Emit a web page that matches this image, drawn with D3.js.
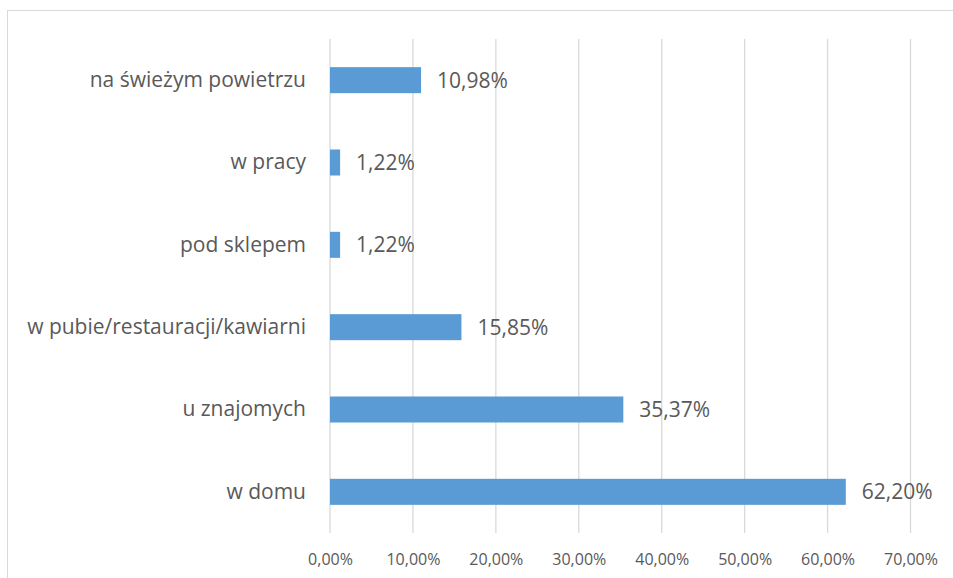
<!DOCTYPE html>
<html>
<head>
<meta charset="utf-8">
<script src="https://cdn.jsdelivr.net/npm/d3@7"></script>
<style>
  body { margin: 0; background: #fff; }
  svg text { font-family: "Open Sans", sans-serif; fill: #595959; }
</style>
</head>
<body>
<svg id="chart" width="953" height="578"></svg>
<script>
const categories = [
  "na świeżym powietrzu",
  "w pracy",
  "pod sklepem",
  "w pubie/restauracji/kawiarni",
  "u znajomych",
  "w domu",
];
const values = [10.98, 1.22, 1.22, 15.85, 35.37, 62.2];
const tickValues = [0, 10, 20, 30, 40, 50, 60, 70];

const svg = d3.select("#chart");

// frame
svg.append("rect")
  .attr("x", 7.5).attr("y", 10.5)
  .attr("width", 960).attr("height", 600)
  .attr("fill", "none").attr("stroke", "#d9d9d9");

const x = d3.scaleLinear().domain([0, 70]).range([330, 910.5]);
const y = d3.scaleBand().domain(categories).range([39, 533])
  .paddingInner(0.684).paddingOuter(0.342);

const fmt = (v) => v.toFixed(2).replace(".", ",") + "%";

// gridlines
svg.append("g").selectAll("line").data(tickValues).join("line")
  .attr("x1", (d) => x(d)).attr("x2", (d) => x(d))
  .attr("y1", 39).attr("y2", 533)
  .attr("stroke", "#d9d9d9").attr("stroke-width", 1.3);

// x axis labels
const xAxis = d3.axisBottom(x).tickValues(tickValues).tickFormat(fmt).tickSize(0).tickPadding(0);
const gx = svg.append("g").attr("transform", "translate(0,559)").call(xAxis);
gx.select(".domain").remove();
gx.selectAll("text").attr("font-size", 16).attr("dy", "0.35em").style("font-family", null);

// category labels
const yAxis = d3.axisLeft(y).tickSize(0).tickPadding(0);
const gy = svg.append("g").attr("transform", "translate(306,0)").call(yAxis);
gy.select(".domain").remove();
gy.selectAll("text").attr("font-size", 21).style("font-family", null);

// bars
const rows = categories.map((c, i) => ({ name: c, value: values[i] }));
svg.append("g").selectAll("rect").data(rows).join("rect")
  .attr("x", x(0))
  .attr("y", (d) => y(d.name))
  .attr("width", (d) => x(d.value) - x(0))
  .attr("height", y.bandwidth())
  .attr("fill", "#5b9bd5");

// data labels
svg.append("g").selectAll("text").data(rows).join("text")
  .attr("x", (d) => x(d.value) + 16)
  .attr("y", (d) => y(d.name) + y.bandwidth() / 2)
  .attr("dy", "0.35em")
  .attr("font-size", 21)
  .text((d) => fmt(d.value));
</script>
</body>
</html>
